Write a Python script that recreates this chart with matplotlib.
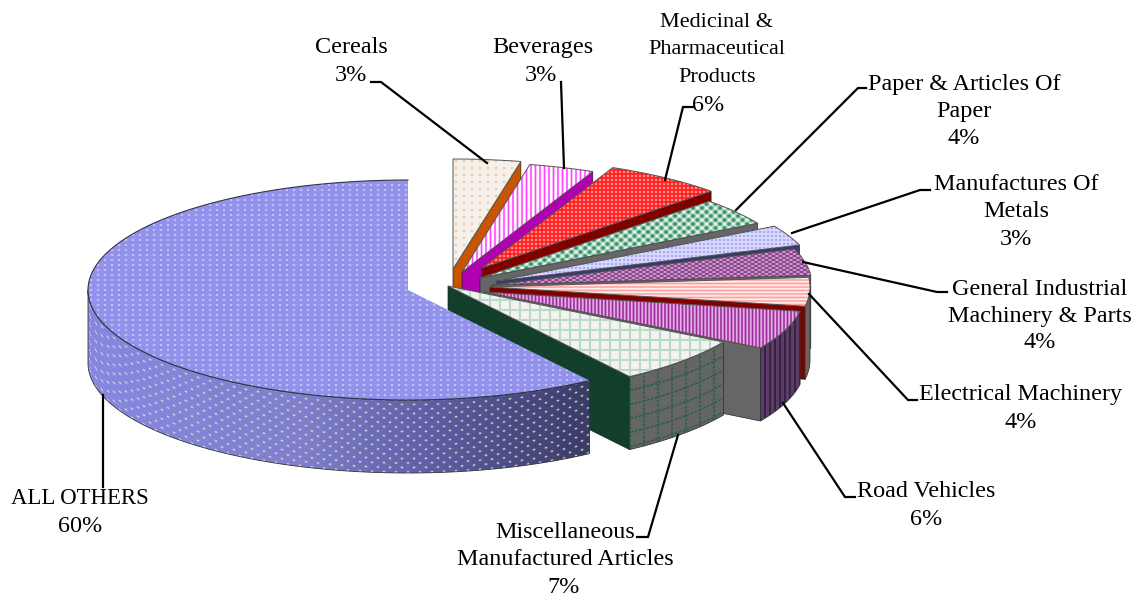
import matplotlib
matplotlib.use('Agg')
import matplotlib.pyplot as plt
from matplotlib.patches import Polygon
import numpy as np

# percent shares, clockwise from 12 o'clock (labels are rounded)
categories = [
    ["Cereals"], ["Beverages"], ["Medicinal &", "Pharmaceutical", "Products"],
    ["Paper & Articles Of", "Paper"], ["Manufactures Of", "Metals"],
    ["General Industrial", "Machinery & Parts"], ["Electrical Machinery"],
    ["Road Vehicles"], ["Miscellaneous", "Manufactured Articles"], ["ALL OTHERS"],
]
values = [3.4, 3.3, 6.0, 4.0, 3.0, 3.9, 4.2, 5.7, 6.9, 59.6]
percent_labels = ["3%", "3%", "6%", "4%", "3%", "4%", "4%", "6%", "7%", "60%"]

W, H = 1137, 600
RX, RY, DEPTH = 320, 110, 73
FONT = 'Liberation Serif'
LINE_STEP = 27.4

# where each exploded slice has its tip on the canvas
tip_x = [453, 462, 482, 480, 497, 492, 490, 485, 448, 408]
tip_y = [269, 272, 268, 278, 281, 285, 287, 292, 286, 290]

# name centre x, first baseline, percent centre x, percent baseline, name font size
label_x = [351, 543, 717, 964, 1016, 1040, 1021, 926, 565, 80]
label_y = [53, 53, 27, 90, 190, 295, 400, 497, 538, 504]
pct_x = [351, 541, 708, 964, 1016, 1040, 1021, 926, 564, 80]
pct_y = [81, 81, 111, 144, 245, 348, 428, 525, 593, 532]
label_size = [17.4, 17.4, 16.0, 17.4, 17.4, 17.4, 17.4, 17.4, 17.4, 16.4]
PCT_SIZE = 17.4

leaders = [
    [(371, 82), (381, 82), (487, 163)],
    [(561, 82), (564, 168)],
    [(694, 107), (683, 107), (665, 180)],
    [(866, 88), (858, 88), (736, 210)],
    [(930, 190), (920, 190), (792, 233)],
    [(947, 292), (937, 292), (803, 262)],
    [(917, 400), (908, 400), (809, 294)],
    [(855, 497), (845, 497), (783, 403)],
    [(637, 537), (648, 537), (678, 435)],
    [(103, 487), (103, 395)],
]

# (kind, period x, period y, sharpness), foreground, background
top_style = [
    (('dots', 8, 7, 5), '#F0B088', '#F6F1EB'),
    (('vstripes', 4.5, 0, 2), '#FF40FF', '#FFFFFF'),
    (('dots', 4, 4, 1), '#FFB8B8', '#FF1C1C'),
    (('stagger', 9, 8, 0.9), '#248A58', '#FFFFFF'),
    (('dots', 4, 4, 1), '#9A9AF2', '#DCDCFF'),
    (('stagger', 7, 4, 1.2), '#DDBBDD', '#853585'),
    (('hstripes', 0, 3.5, 1), '#FFA0A0', '#FFF2F0'),
    (('vstripes', 3.5, 0, 1), '#9C2C9C', '#E8B4E8'),
    (('grid', 10, 10, 14), '#A4CEB8', '#F3F3EF'),
    (('dots', 7, 5, 4), '#E8E8FF', '#9292EC'),
]
radial_wall = ['#C85500', '#B000B0', '#800000', '#666666', '#3A3A68',
               '#666666', '#800000', '#666666', '#123F2B', '#3C3C68']
rim_style = [
    None, None, None, None, None, None,
    (('stagger', 6, 6, 3), '#A84848', '#666666'),
    (('vstripes', 5, 0, 4), '#241630', '#5E3C68'),
    (('dashgrid', 14, 14, 24), '#1C5C3C', '#666666'),
    (('stagger', 12, 9, 10), '#E6E6D0', '#8585DD'),
]

# shading along the big rim, dark towards the front right
shade_x = [88, 300, 430, 590]
shade_rgb = [(0.53, 0.53, 0.89), (0.50, 0.50, 0.80), (0.37, 0.37, 0.65), (0.23, 0.23, 0.40)]

YY, XX = np.mgrid[0:H, 0:W] + 0.5


def wave(t, p, sharp):
    return ((np.cos(2 * np.pi * t / p) + 1) / 2) ** sharp


def pattern(spec, u, v):
    kind, pu, pv, s = spec
    if kind == 'dots':
        return wave(u, pu, s) * wave(v, pv, s)
    if kind == 'stagger':
        a = wave(u, pu, s) * wave(v, pv, s)
        b = wave(u + pu / 2, pu, s) * wave(v + pv / 2, pv, s)
        return np.maximum(a, b)
    if kind == 'vstripes':
        return wave(u, pu, s)
    if kind == 'hstripes':
        return wave(v, pv, s)
    if kind == 'grid':
        return np.maximum(wave(u, pu, s), wave(v, pv, s))
    if kind == 'dashgrid':
        a = wave(u, pu, s) * wave(v, 4, 0.6)
        b = wave(v, pv, s) * wave(u, 4, 0.6)
        return np.maximum(a, b)
    raise ValueError(kind)


def fill(ax, poly, spec, fg, bg, z, warp=None, shade=False):
    v = YY if warp is None else YY - warp
    m = pattern(spec, XX, v)[..., None]
    fg_rgb = np.array(matplotlib.colors.to_rgb(fg))
    if shade:
        bg_rgb = np.stack([np.interp(XX, shade_x, [c[i] for c in shade_rgb]) for i in range(3)], axis=-1)
    else:
        bg_rgb = np.array(matplotlib.colors.to_rgb(bg))
    img = bg_rgb * (1 - m) + fg_rgb * m
    im = ax.imshow(img, extent=(0, W, H, 0), aspect='auto', interpolation='nearest', zorder=z)
    clip = Polygon(poly, closed=True, transform=ax.transData)
    im.set_clip_path(clip)


def rim_points(tx, ty, a0, a1):
    t = np.radians(np.linspace(a0, a1, max(int(a1 - a0) * 2, 8)))
    return np.column_stack([tx + RX * np.sin(t), ty - RY * np.cos(t)])


def draw_slice(ax, i, a0, a1, z):
    tx, ty = tip_x[i], tip_y[i]
    outer = rim_points(tx, ty, a0, a1)
    last = i == len(values) - 1

    # flat wall on the clockwise side of the slice, hidden by whatever comes later
    if not last:
        end = outer[-1]
        wall = [(tx, ty), tuple(end), (end[0], end[1] + DEPTH), (tx, ty + DEPTH)]
        ax.add_patch(Polygon(wall, closed=True, facecolor=radial_wall[i], edgecolor='#222222',
                             linewidth=0.5, zorder=z))

    # curved wall, only the part facing the viewer
    lo, hi = max(a0, 90), min(a1, 270)
    if rim_style[i] is not None and lo < hi:
        arc = rim_points(tx, ty, lo, hi)
        poly = np.vstack([arc, (arc + [0, DEPTH])[::-1]])
        spec, fg, bg = rim_style[i]
        warp = ty + RY * np.sqrt(np.clip(1 - ((XX - tx) / RX) ** 2, 0, 1))
        fill(ax, poly, spec, fg, bg, z + 0.1, warp=warp, shade=last)
        ax.add_patch(Polygon(poly, closed=True, fill=False, edgecolor='#333333',
                             linewidth=0.6, zorder=z + 0.2))

    # top face, the big slice only has its arc outlined
    top = np.vstack([[tx, ty], outer])
    spec, fg, bg = top_style[i]
    fill(ax, top, spec, fg, bg, z + 0.3)
    if last:
        ax.plot(outer[:, 0], outer[:, 1], color='#333344', linewidth=0.8, zorder=z + 0.4)
    else:
        ax.add_patch(Polygon(top, closed=True, fill=False, edgecolor='#555555',
                             linewidth=0.7, zorder=z + 0.4))


fig = plt.figure(figsize=(W / 100, H / 100), dpi=100, facecolor='white')
ax = fig.add_axes([0, 0, 1, 1])

edges = np.concatenate([[0], np.cumsum(values)]) * 3.6
for i in range(len(values)):
    draw_slice(ax, i, edges[i], edges[i + 1], 1 + i)

ax.set_xlim(0, W)
ax.set_ylim(H, 0)
ax.axis('off')

for pts in leaders:
    xs, ys = zip(*pts)
    ax.plot(xs, ys, color='black', linewidth=1.6, solid_joinstyle='miter', zorder=20)

for i, lines in enumerate(categories):
    for j, line in enumerate(lines):
        ax.text(label_x[i], label_y[i] + j * LINE_STEP, line, ha='center', va='baseline',
                fontsize=label_size[i], family=FONT, color='black', zorder=21)
    ax.text(pct_x[i], pct_y[i], percent_labels[i], ha='center', va='baseline',
            fontsize=PCT_SIZE, family=FONT, color='black', zorder=21)

fig.savefig('out.png', dpi=100, facecolor='white')
